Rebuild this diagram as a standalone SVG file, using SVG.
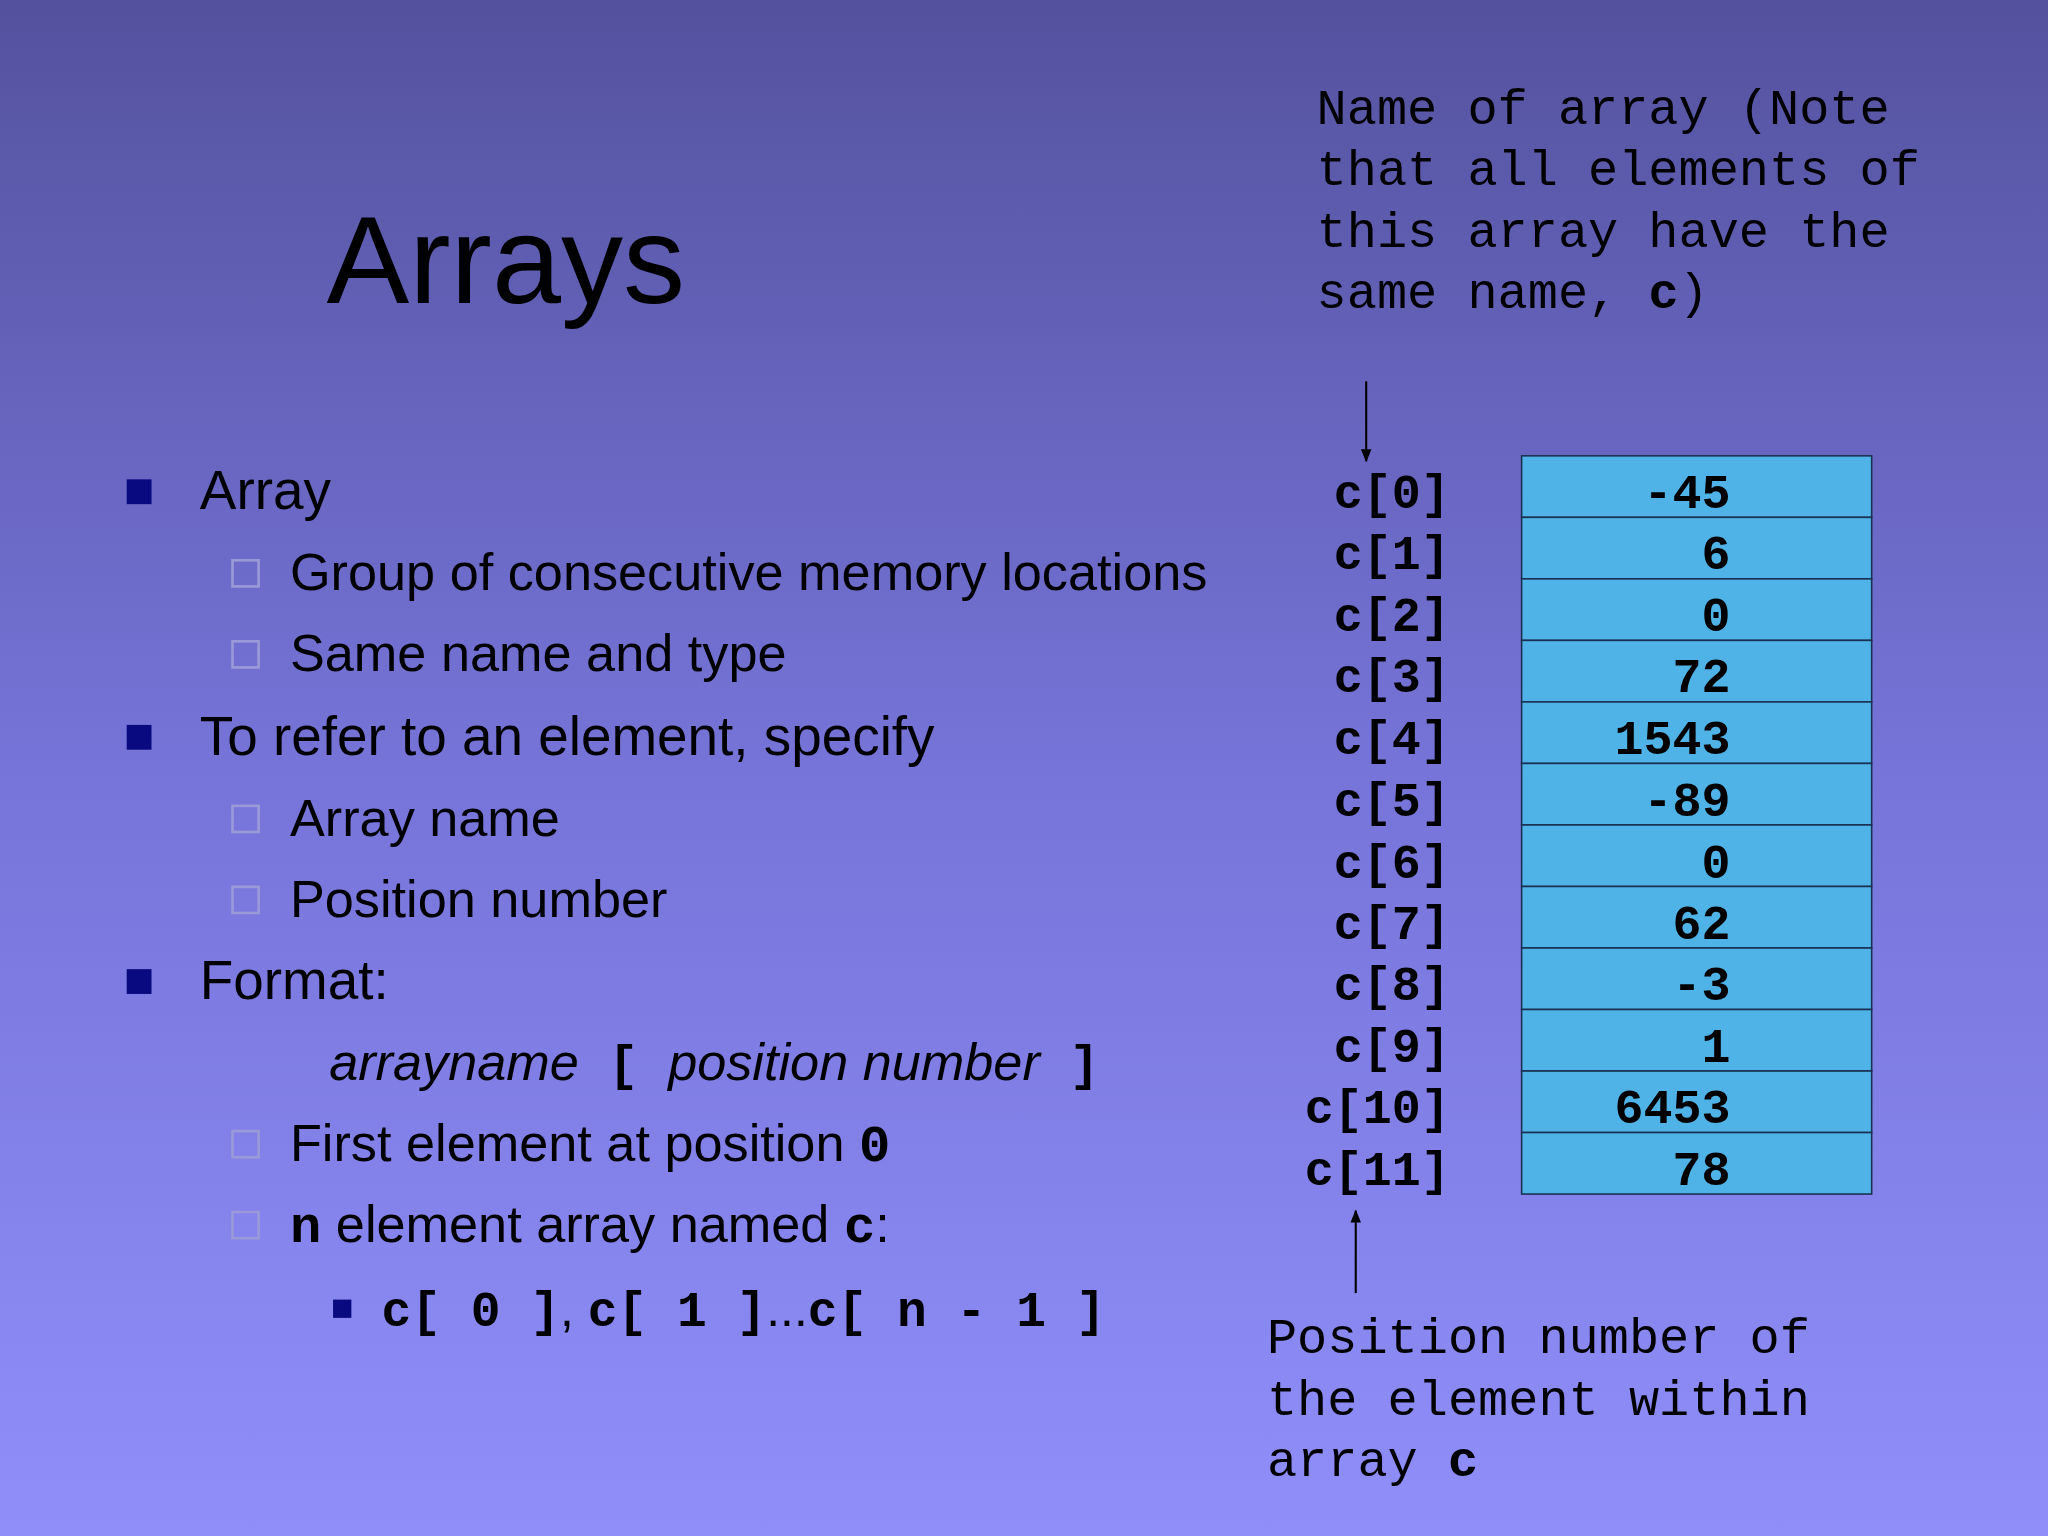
<svg xmlns="http://www.w3.org/2000/svg" width="2048" height="1536" viewBox="0 0 2048 1536">
<defs>
<linearGradient id="bg" x1="0" y1="0" x2="0" y2="1"><stop offset="0" stop-color="#54529e"/><stop offset="0.5" stop-color="#7674d8"/><stop offset="1" stop-color="#908ffa"/></linearGradient>
<marker id="ah" markerWidth="10" markerHeight="10" refX="9" refY="5" orient="auto" markerUnits="userSpaceOnUse"><path d="M0,1 L10,5 L0,9 z" fill="#000"/></marker>
<style>
.s{font-family:"Liberation Sans",Arial,sans-serif;fill:#000}
.m{font-family:"Liberation Mono","Courier New",monospace;fill:#000}
.b{font-weight:bold}
.l1{font-size:42px}.l2{font-size:40px}
.nb{fill:#0a0a80}
.hb{fill:none;stroke:#9a9ad8;stroke-width:2}
.cell{fill:#4fb3e8;stroke:#1a3050;stroke-width:1.2}
.lab{font-size:37px;font-weight:bold;text-anchor:end}
.val{font-size:37px;font-weight:bold;text-anchor:end}
.note{font-size:38.5px}
</style>
</defs>
<rect width="2048" height="1536" fill="url(#bg)"/>
<g transform="scale(1.30612)">
<g id="title"><text class="s" x="250" y="232" font-size="95">Arrays</text></g>
<g id="bullets">
<rect class="nb" x="97" y="367" width="19" height="19"/>
<text class="s l1" x="153" y="390">Array</text>
<rect class="hb" x="178" y="429" width="20" height="20"/>
<text class="s l2" x="222" y="452">Group of consecutive memory locations</text>
<rect class="hb" x="178" y="491" width="20" height="20"/>
<text class="s l2" x="222" y="514">Same name and type</text>
<rect class="nb" x="97" y="555" width="19" height="19"/>
<text class="s l1" x="153" y="578">To refer to an element, specify</text>
<rect class="hb" x="178" y="617" width="20" height="20"/>
<text class="s l2" x="222" y="640">Array name</text>
<rect class="hb" x="178" y="679" width="20" height="20"/>
<text class="s l2" x="222" y="702">Position number</text>
<rect class="nb" x="97" y="742" width="19" height="19"/>
<text class="s l1" x="153" y="765">Format:</text>
<text x="252" y="827" font-size="40"><tspan class="s" font-style="italic">arrayname</tspan><tspan class="m b" font-size="38"> [ </tspan><tspan class="s" font-style="italic">position number</tspan><tspan class="m b" font-size="38"> ]</tspan></text>
<rect class="hb" x="178" y="866" width="20" height="20"/>
<text class="s l2" x="222" y="889">First element at position <tspan class="m b">0</tspan></text>
<rect class="hb" x="178" y="928" width="20" height="20"/>
<text class="s l2" x="222" y="951"><tspan class="m b">n</tspan> element array named <tspan class="m b">c</tspan>:</text>
<rect class="nb" x="255" y="995" width="14" height="14"/>
<text x="292" y="1015" font-size="38"><tspan class="m b">c[ 0 ]</tspan><tspan class="s">, </tspan><tspan class="m b">c[ 1 ]</tspan><tspan class="s">...</tspan><tspan class="m b">c[ n - 1 ]</tspan></text>
</g>
<g id="note-top"><text class="m note" x="1008" y="95">Name of array (Note</text><text class="m note" x="1008" y="142">that all elements of</text><text class="m note" x="1008" y="189">this array have the</text><text class="m note" x="1008" y="236">same name, <tspan class="b">c</tspan>)</text></g>
<g id="note-bottom"><text class="m note" x="970" y="1036">Position number of</text><text class="m note" x="970" y="1083">the element within</text><text class="m note" x="970" y="1130">array <tspan class="b">c</tspan></text></g>
<g id="connectors" stroke="#000" stroke-width="1.6"><line x1="1046" y1="292" x2="1046" y2="353" marker-end="url(#ah)"/><line x1="1038" y1="990" x2="1038" y2="927" marker-end="url(#ah)"/></g>
<g id="array">
<rect class="cell" x="1165" y="349" width="268" height="47.1"/><rect class="cell" x="1165" y="396.1" width="268" height="47.1"/><rect class="cell" x="1165" y="443.2" width="268" height="47.1"/><rect class="cell" x="1165" y="490.3" width="268" height="47.1"/><rect class="cell" x="1165" y="537.4" width="268" height="47.1"/><rect class="cell" x="1165" y="584.5" width="268" height="47.1"/><rect class="cell" x="1165" y="631.6" width="268" height="47.1"/><rect class="cell" x="1165" y="678.7" width="268" height="47.1"/><rect class="cell" x="1165" y="725.8" width="268" height="47.1"/><rect class="cell" x="1165" y="772.9" width="268" height="47.1"/><rect class="cell" x="1165" y="820" width="268" height="47.1"/><rect class="cell" x="1165" y="867.1" width="268" height="47.1"/>
<g class="m lab"><text x="1110" y="389">c[0]</text><text x="1110" y="436">c[1]</text><text x="1110" y="483">c[2]</text><text x="1110" y="530">c[3]</text><text x="1110" y="577">c[4]</text><text x="1110" y="625">c[5]</text><text x="1110" y="672">c[6]</text><text x="1110" y="719">c[7]</text><text x="1110" y="766">c[8]</text><text x="1110" y="813">c[9]</text><text x="1110" y="860">c[10]</text><text x="1110" y="907">c[11]</text></g>
<g class="m val"><text x="1325" y="389">-45</text><text x="1325" y="436">6</text><text x="1325" y="483">0</text><text x="1325" y="530">72</text><text x="1325" y="577">1543</text><text x="1325" y="625">-89</text><text x="1325" y="672">0</text><text x="1325" y="719">62</text><text x="1325" y="766">-3</text><text x="1325" y="813">1</text><text x="1325" y="860">6453</text><text x="1325" y="907">78</text></g>
</g>
</g>
</svg>
